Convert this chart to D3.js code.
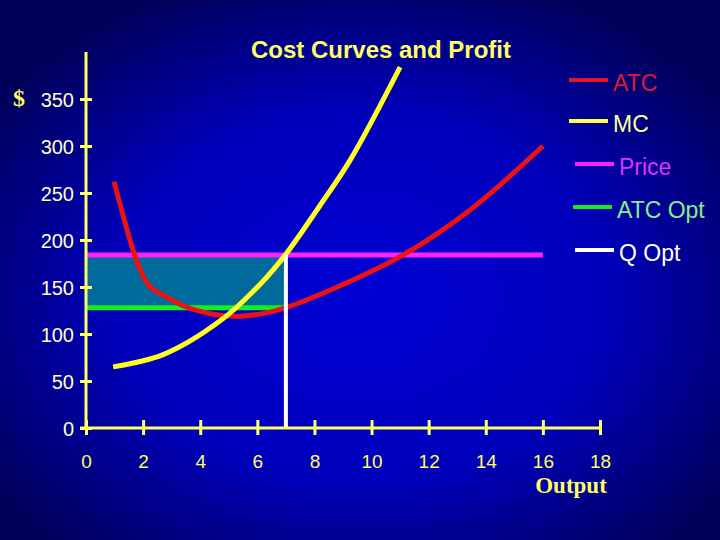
<!DOCTYPE html>
<html>
<head>
<meta charset="utf-8">
<script src="https://cdn.jsdelivr.net/npm/d3@7"></script>
<style>
  body { margin: 0; background: #000066; }
  svg { display: block; }
</style>
</head>
<body>
<div id="chart"></div>
<script>
(function() {

    var width = 720,
        height = 540;

    // data
    var atcX = [0.98, 1.3, 1.65, 1.9, 2.25, 2.85, 3.4, 4.45, 5.4, 6.4, 7.0, 8.8, 11.1, 13.45, 16.0];
    var atcY = [262, 226, 189, 168, 150, 139, 130, 121, 119, 123, 128, 150, 184, 232, 300];
    var mcX = [0.95, 2.7, 4.7, 6.1, 7.0, 8.2, 9.25, 11.0];
    var mcY = [65, 78, 114, 153, 185, 237, 285, 384];
    var price = 184,
        atcOpt = 128,
        qOpt = 7,
        priceEnd = 16;
    var xTicks = [0, 2, 4, 6, 8, 10, 12, 14, 16, 18];
    var yTicks = [0, 50, 100, 150, 200, 250, 300, 350];
    var legendNames = ["ATC", "MC", "Price", "ATC Opt", "Q Opt"];
    var legendLine = ["#e8102a", "#ffff44", "#ff22ff", "#11ee22", "#ffffff"];
    var legendText = ["#e01838", "#ffff99", "#dd33ff", "#88ee88", "#ffffff"];

    var svg = d3.select("#chart")
            .append("svg")
            .attr("width", width)
            .attr("height", height);

    var defs = svg.append("defs");
    var grad = defs.append("radialGradient")
            .attr("id", "bg")
            .attr("cx", "50%").attr("cy", "55%").attr("r", "62%");
    grad.append("stop").attr("offset", "0%").attr("stop-color", "#0000d4");
    grad.append("stop").attr("offset", "55%").attr("stop-color", "#0000bb");
    grad.append("stop").attr("offset", "100%").attr("stop-color", "#00005a");

    svg.append("rect")
        .attr("width", width)
        .attr("height", height)
        .attr("fill", "url(#bg)");

    var x = d3.scaleLinear().domain([0, 18]).range([86, 600]);
    var y = d3.scaleLinear().domain([0, 400]).range([428, 52]);

    /*
        profit area + reference lines
    */
    svg.append("rect")
        .attr("x", x(0))
        .attr("y", y(price))
        .attr("width", x(qOpt) - x(0))
        .attr("height", y(atcOpt) - y(price))
        .attr("fill", "#006a9c");

    svg.append("line")
        .attr("x1", x(0)).attr("x2", x(qOpt))
        .attr("y1", y(atcOpt)).attr("y2", y(atcOpt))
        .attr("stroke", "#11ee22").attr("stroke-width", 5);

    svg.append("line")
        .attr("x1", x(0)).attr("x2", x(priceEnd))
        .attr("y1", y(price)).attr("y2", y(price))
        .attr("stroke", "#ff22ff").attr("stroke-width", 5);

    var line = d3.line()
        .x(function(d) { return x(d[0]); })
        .y(function(d) { return y(d[1]); })
        .curve(d3.curveCatmullRom.alpha(0.5));

    svg.append("path")
        .attr("d", line(d3.zip(atcX, atcY)))
        .attr("fill", "none")
        .attr("stroke", "#ee1111")
        .attr("stroke-width", 5);

    svg.append("path")
        .attr("d", line(d3.zip(mcX, mcY)))
        .attr("fill", "none")
        .attr("stroke", "#ffff22")
        .attr("stroke-width", 5);

    svg.append("line")
        .attr("x1", x(qOpt)).attr("x2", x(qOpt))
        .attr("y1", y(price)).attr("y2", y(0))
        .attr("stroke", "#ffffff").attr("stroke-width", 4);

    /*
        axes
    */
    var yAxis = svg.append("g")
        .attr("transform", "translate(" + x(0) + ",0)")
        .call(d3.axisLeft(y).tickValues(yTicks).tickSize(6).tickPadding(6));
    yAxis.select(".domain").remove();
    yAxis.append("line")
        .attr("y1", 52).attr("y2", y(0) + 1)
        .attr("stroke", "#ffff66").attr("stroke-width", 3);
    yAxis.selectAll(".tick line")
        .attr("x1", 6)
        .attr("stroke", "#ffff66").attr("stroke-width", 3);
    yAxis.selectAll(".tick text")
        .attr("fill", "#ffffcc")
        .attr("font-family", "Arial, 'Liberation Sans', sans-serif")
        .attr("font-size", 20)
        .attr("dy", "0.36em");

    var xAxis = svg.append("g")
        .attr("transform", "translate(0," + y(0) + ")")
        .call(d3.axisBottom(x).tickValues(xTicks).tickSize(7).tickPadding(20));
    xAxis.select(".domain").remove();
    xAxis.append("line")
        .attr("x1", 80).attr("x2", x(18) + 2)
        .attr("stroke", "#ffff66").attr("stroke-width", 3);
    xAxis.selectAll(".tick line")
        .attr("y1", -8)
        .attr("stroke", "#ffff66").attr("stroke-width", 3);
    xAxis.selectAll(".tick text")
        .attr("fill", "#ffff66")
        .attr("font-family", "Arial, 'Liberation Sans', sans-serif")
        .attr("font-size", 19);

    /*
        titles
    */
    svg.append("text")
        .attr("x", 381).attr("y", 58)
        .attr("text-anchor", "middle")
        .attr("font-family", "Arial, 'Liberation Sans', sans-serif")
        .attr("font-weight", "bold")
        .attr("font-size", 24)
        .attr("fill", "#ffff66")
        .text("Cost Curves and Profit");

    svg.append("text")
        .attr("x", 19).attr("y", 106)
        .attr("text-anchor", "middle")
        .attr("font-family", "'Liberation Serif', 'Times New Roman', serif")
        .attr("font-weight", "bold")
        .attr("font-size", 24)
        .attr("fill", "#ffff66")
        .text("$");

    svg.append("text")
        .attr("x", 571).attr("y", 493)
        .attr("text-anchor", "middle")
        .attr("font-family", "'Liberation Serif', 'Times New Roman', serif")
        .attr("font-weight", "bold")
        .attr("font-size", 23)
        .attr("fill", "#ffff66")
        .text("Output");

    /*
        legend
    */
    var legendY = [80, 121, 164, 207, 250];
    var legendX1 = [569, 569, 575, 573, 575];
    var legend = svg.selectAll(".legend")
        .data(legendNames)
        .enter().append("g")
        .attr("class", "legend");

    legend.append("line")
        .attr("x1", function(d, i) { return legendX1[i]; })
        .attr("x2", function(d, i) { return legendX1[i] + 39; })
        .attr("y1", function(d, i) { return legendY[i]; })
        .attr("y2", function(d, i) { return legendY[i]; })
        .attr("stroke", function(d, i) { return legendLine[i]; })
        .attr("stroke-width", 4);

    legend.append("text")
        .attr("x", function(d, i) { return legendX1[i] + 44; })
        .attr("y", function(d, i) { return legendY[i] + 11; })
        .attr("font-family", "Arial, 'Liberation Sans', sans-serif")
        .attr("font-size", 23)
        .attr("fill", function(d, i) { return legendText[i]; })
        .text(function(d) { return d; });

})();
</script>
</body>
</html>
